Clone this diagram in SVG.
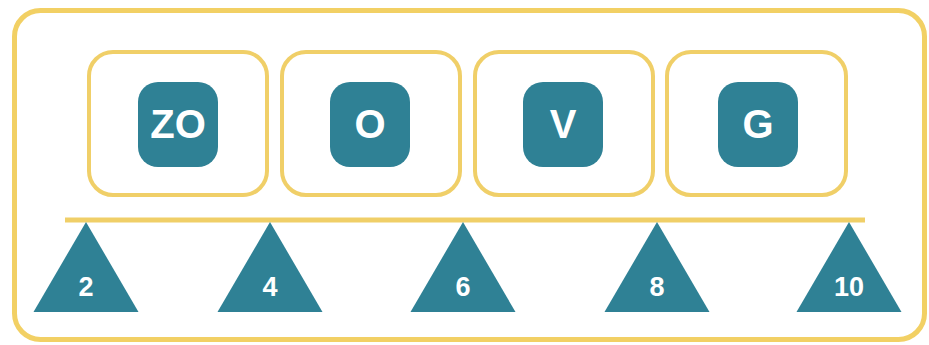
<svg xmlns="http://www.w3.org/2000/svg" width="929" height="345" viewBox="0 0 929 345">
<style>
.frame{fill:#fff;stroke:#f2d064;stroke-width:5}
.box{fill:#fff;stroke:#f0cf68;stroke-width:4}
.sq{fill:#2f8195}
.tri{fill:#2f8195}
.lbl{font-family:"Liberation Sans",Arial,sans-serif;font-weight:bold;fill:#fff;text-anchor:middle}
.big{font-size:40px}
.small{font-size:27px}
</style>
<rect width="929" height="345" fill="#fff"/>
<rect class="frame" x="14.5" y="10.5" width="910" height="329" rx="26"/>
<g id="node-zo"><rect class="box" x="89" y="52" width="178" height="143" rx="24"/><rect class="sq" x="138" y="82" width="80" height="85" rx="20"/><text class="lbl big" x="178" y="138">ZO</text></g>
<g id="node-o"><rect class="box" x="282" y="52" width="178" height="143" rx="24"/><rect class="sq" x="330" y="82" width="80" height="85" rx="20"/><text class="lbl big" x="370" y="138">O</text></g>
<g id="node-v"><rect class="box" x="475" y="52" width="178" height="143" rx="24"/><rect class="sq" x="523" y="82" width="80" height="85" rx="20"/><text class="lbl big" x="563" y="138">V</text></g>
<g id="node-g"><rect class="box" x="667" y="52" width="179" height="143" rx="24"/><rect class="sq" x="718" y="82" width="80" height="85" rx="20"/><text class="lbl big" x="758" y="138">G</text></g>
<g id="connectors"><line x1="65" y1="220" x2="865" y2="220" stroke="#f0cf68" stroke-width="5"/></g>
<g id="tick-2"><polygon class="tri" points="86,222 138.5,312 33.5,312"/><text class="lbl small" x="86" y="296">2</text></g>
<g id="tick-4"><polygon class="tri" points="270,222 322.5,312 217.5,312"/><text class="lbl small" x="270" y="296">4</text></g>
<g id="tick-6"><polygon class="tri" points="463,222 515.5,312 410.5,312"/><text class="lbl small" x="463" y="296">6</text></g>
<g id="tick-8"><polygon class="tri" points="657,222 709.5,312 604.5,312"/><text class="lbl small" x="657" y="296">8</text></g>
<g id="tick-10"><polygon class="tri" points="849,222 901.5,312 796.5,312"/><text class="lbl small" x="849" y="296">10</text></g>
</svg>
